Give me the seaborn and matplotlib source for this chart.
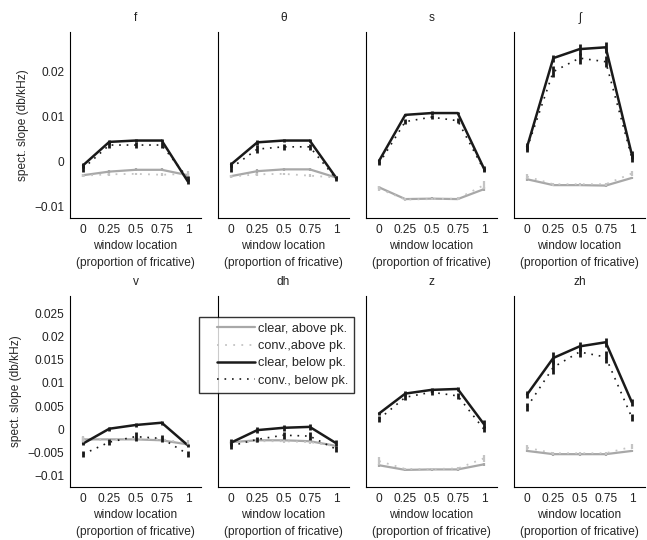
import numpy as np
import pandas as pd
import seaborn as sns
import matplotlib
matplotlib.use("Agg")
import matplotlib.pyplot as plt
from matplotlib.lines import Line2D
from matplotlib.legend_handler import HandlerLine2D

# ---------------- data ----------------
locations = [0, 0.25, 0.5, 0.75, 1]
loc_labels = ["0", "0.25", "0.5", "0.75", "1"]
panels = ["f", "θ", "s", "ʃ", "v", "dh", "z", "zh"]

clear_above = {
    "f":  [-0.0030, -0.0022, -0.0018, -0.0018, -0.0030],
    "θ":  [-0.0032, -0.0021, -0.0017, -0.0017, -0.0035],
    "s":  [-0.0057, -0.0083, -0.0082, -0.0083, -0.0061],
    "ʃ":  [-0.0039, -0.0052, -0.0052, -0.0053, -0.0036],
    "v":  [-0.0022, -0.0022, -0.0022, -0.0024, -0.0033],
    "dh": [-0.0028, -0.0024, -0.0024, -0.0026, -0.0036],
    "z":  [-0.0078, -0.0088, -0.0087, -0.0087, -0.0076],
    "zh": [-0.0047, -0.0054, -0.0054, -0.0054, -0.0047],
}
conv_above = {
    "f":  [-0.0031, -0.0028, -0.0027, -0.0029, -0.0027],
    "θ":  [-0.0033, -0.0028, -0.0027, -0.0031, -0.0035],
    "s":  [-0.0060, -0.0084, -0.0083, -0.0082, -0.0052],
    "ʃ":  [-0.0033, -0.0050, -0.0050, -0.0050, -0.0026],
    "v":  [-0.0022, -0.0024, -0.0020, -0.0022, -0.0030],
    "dh": [-0.0030, -0.0026, -0.0026, -0.0028, -0.0037],
    "z":  [-0.0069, -0.0086, -0.0086, -0.0085, -0.0063],
    "zh": [-0.0040, -0.0052, -0.0052, -0.0052, -0.0038],
}
clear_below = {
    "f":  [-0.0008, 0.0044, 0.0047, 0.0047, -0.0044],
    "θ":  [-0.0006, 0.0043, 0.0047, 0.0047, -0.0035],
    "s":  [0.0002, 0.0104, 0.0108, 0.0108, -0.0015],
    "ʃ":  [0.0033, 0.0230, 0.0250, 0.0254, 0.0015],
    "v":  [-0.0031, 0.0001, 0.0009, 0.0014, -0.0035],
    "dh": [-0.0029, -0.0002, 0.0003, 0.0005, -0.0030],
    "z":  [0.0034, 0.0077, 0.0085, 0.0087, 0.0011],
    "zh": [0.0075, 0.0154, 0.0179, 0.0188, 0.0058],
}
conv_below = {
    "f":  [-0.0015, 0.0037, 0.0037, 0.0037, -0.0037],
    "θ":  [-0.0014, 0.0028, 0.0033, 0.0033, -0.0037],
    "s":  [-0.0004, 0.0089, 0.0099, 0.0091, -0.0018],
    "ʃ":  [0.0030, 0.0200, 0.0230, 0.0222, 0.0008],
    "v":  [-0.0054, -0.0028, -0.0016, -0.0020, -0.0054],
    "dh": [-0.0036, -0.0022, -0.0013, -0.0015, -0.0043],
    "z":  [0.0022, 0.0069, 0.0080, 0.0072, 0.0000],
    "zh": [0.0048, 0.0134, 0.0167, 0.0156, 0.0025],
}
# error bar half-lengths
err_clear_above = {
    "f":  [0.0003, 0.0004, 0.0003, 0.0003, 0.0004],
    "θ":  [0.0003, 0.0004, 0.0003, 0.0003, 0.0003],
    "s":  [0.0004, 0.0003, 0.0003, 0.0003, 0.0004],
    "ʃ":  [0.0003, 0.0003, 0.0003, 0.0003, 0.0003],
    "v":  [0.0005, 0.0004, 0.0004, 0.0004, 0.0004],
    "dh": [0.0004, 0.0004, 0.0004, 0.0004, 0.0004],
    "z":  [0.0003, 0.0003, 0.0003, 0.0003, 0.0003],
    "zh": [0.0003, 0.0003, 0.0003, 0.0003, 0.0003],
}
err_conv_above = {
    "f":  [0.0003, 0.0004, 0.0003, 0.0003, 0.0006],
    "θ":  [0.0003, 0.0004, 0.0003, 0.0003, 0.0004],
    "s":  [0.0006, 0.0003, 0.0003, 0.0003, 0.0009],
    "ʃ":  [0.0005, 0.0003, 0.0003, 0.0003, 0.0006],
    "v":  [0.0008, 0.0005, 0.0005, 0.0005, 0.0006],
    "dh": [0.0005, 0.0004, 0.0004, 0.0005, 0.0005],
    "z":  [0.0008, 0.0003, 0.0003, 0.0003, 0.0008],
    "zh": [0.0005, 0.0003, 0.0003, 0.0003, 0.0005],
}
err_clear_below = {
    "f":  [0.0006, 0.0005, 0.0004, 0.0004, 0.0006],
    "θ":  [0.0006, 0.0005, 0.0004, 0.0004, 0.0004],
    "s":  [0.0004, 0.0003, 0.0004, 0.0003, 0.0005],
    "ʃ":  [0.0008, 0.0008, 0.0012, 0.0012, 0.0008],
    "v":  [0.0004, 0.0004, 0.0004, 0.0004, 0.0004],
    "dh": [0.0008, 0.0006, 0.0006, 0.0006, 0.0006],
    "z":  [0.0004, 0.0005, 0.0005, 0.0004, 0.0008],
    "zh": [0.0007, 0.0013, 0.0010, 0.0010, 0.0008],
}
err_conv_below = {
    "f":  [0.0008, 0.0006, 0.0006, 0.0006, 0.0006],
    "θ":  [0.0008, 0.0008, 0.0006, 0.0006, 0.0006],
    "s":  [0.0004, 0.0006, 0.0005, 0.0006, 0.0005],
    "ʃ":  [0.0008, 0.0012, 0.0012, 0.0012, 0.0008],
    "v":  [0.0006, 0.0006, 0.0009, 0.0008, 0.0006],
    "dh": [0.0006, 0.0006, 0.0008, 0.0008, 0.0006],
    "z":  [0.0006, 0.0006, 0.0005, 0.0007, 0.0006],
    "zh": [0.0008, 0.0015, 0.0010, 0.0012, 0.0008],
}

series_names = ["clear, above pk.", "conv.,above pk.", "clear, below pk.", "conv., below pk."]
series_values = [clear_above, conv_above, clear_below, conv_below]
series_errors = [err_clear_above, err_conv_above, err_clear_below, err_conv_below]
series_colors = ["#a8a8a8", "#c4c4c4", "#1a1a1a", "#1a1a1a"]
series_ls = ["-", (0, (1, 3.5)), "-", (0, (1, 3.5))]
series_lw = [1.6, 1.3, 1.8, 1.2]
err_lw = [1.6, 1.6, 2.0, 2.0]

top_ticks = [-0.01, 0, 0.01, 0.02]
top_ticklabels = ["\u22120.01", "0", "0.01", "0.02"]
bot_ticks = [-0.01, -0.005, 0, 0.005, 0.01, 0.015, 0.02, 0.025]
bot_ticklabels = ["\u22120.01", "\u22120.005", "0", "0.005", "0.01", "0.015", "0.02", "0.025"]

# ---------------- figure ----------------
sns.set_theme(style="white")
plt.rcParams["font.family"] = ["Liberation Sans", "DejaVu Sans"]
plt.rcParams["axes.linewidth"] = 0.8
FS = 8.6
LFS = 9.2

W, H = 647, 540
fig = plt.figure(figsize=(W / 100, H / 100), dpi=100)

lefts_px = [70, 218, 366, 514]
width_px = 131
rows = [(32, 218), (296, 487)]

for i, name in enumerate(panels):
    r, c = divmod(i, 4)
    top, bot = rows[r]
    ax = fig.add_axes([lefts_px[c] / W, 1 - bot / H, width_px / W, (bot - top) / H])
    for s_name, vals, errs, col, ls, lw, elw in zip(series_names, series_values, series_errors,
                                                     series_colors, series_ls, series_lw, err_lw):
        df = pd.DataFrame({"loc": locations, "val": vals[name]})
        sns.lineplot(data=df, x="loc", y="val", ax=ax, color=col, linestyle=ls,
                     linewidth=lw, legend=False, errorbar=None)
        v = np.array(vals[name]); e = np.array(errs[name])
        ax.vlines(locations, v - e, v + e, color=col, linewidth=elw, zorder=3)
    ax.set_xlim(-0.125, 1.125)
    ax.set_ylim(-0.0125, 0.0288)
    ax.set_xticks(locations)
    ax.set_xticklabels(loc_labels, fontsize=FS)
    ax.set_xlabel("window location\n(proportion of fricative)", fontsize=FS, labelpad=3,
                  linespacing=1.6)
    ax.set_title(name, fontsize=FS, pad=8, color="#222222")
    if c == 0:
        if r == 0:
            ax.set_yticks(top_ticks)
            ax.set_yticklabels(top_ticklabels, fontsize=FS)
        else:
            ax.set_yticks(bot_ticks)
            ax.set_yticklabels(bot_ticklabels, fontsize=FS)
        ax.set_ylabel("spect. slope (db/kHz)", fontsize=FS, labelpad=4)
    else:
        ax.set_yticks(bot_ticks if r == 1 else top_ticks)
        ax.set_yticklabels([])
        ax.set_ylabel("")
    ax.tick_params(direction="in", length=2, width=0.6, colors="black", pad=4,
                   labelcolor="#222222")
    for sp in ["top", "right"]:
        ax.spines[sp].set_visible(False)
    for sp in ["left", "bottom"]:
        ax.spines[sp].set_color("black")
    ax.set_facecolor("none")


class OffsetLineHandler(HandlerLine2D):
    """Draw the legend sample line starting a bit inside its handle box."""
    def create_artists(self, legend, orig_handle, xdescent, ydescent, width, height,
                       fontsize, trans):
        artists = super().create_artists(legend, orig_handle, xdescent, ydescent,
                                         width, height, fontsize, trans)
        for a in artists:
            if isinstance(a, Line2D):
                xd = np.asarray(a.get_xdata(), dtype=float)
                if xd.size >= 2:
                    x0, x1 = xd.min(), xd.max()
                    a.set_xdata(np.linspace(x0 + 0.24 * (x1 - x0), x1, xd.size))
        return artists


handles = [Line2D([0, 1], [0, 0], color=col, linestyle=ls, linewidth=lw)
           for col, ls, lw in zip(series_colors, series_ls, series_lw)]
leg = fig.legend(handles, series_names, loc="upper left",
                 bbox_to_anchor=(199 / W, 1 - 317 / H), fontsize=LFS,
                 frameon=True, fancybox=False, edgecolor="black",
                 handlelength=3.9, handletextpad=0.25, borderpad=0.45,
                 labelspacing=0.42, borderaxespad=0,
                 handler_map={h: OffsetLineHandler() for h in handles})
leg.get_frame().set_linewidth(1.0)
leg.get_frame().set_facecolor("white")
leg.set_zorder(10)

fig.savefig("out.png", dpi=100)
